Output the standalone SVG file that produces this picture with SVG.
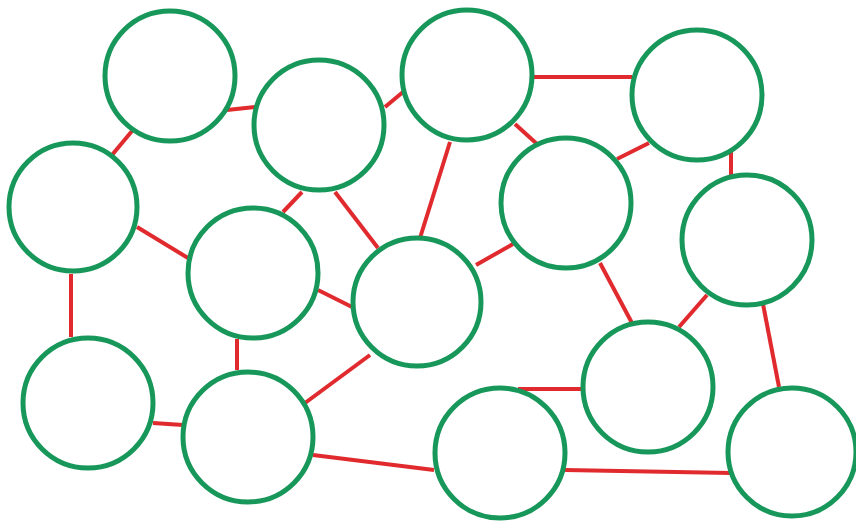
<svg xmlns="http://www.w3.org/2000/svg" width="856" height="525" viewBox="0 0 856 525">
<style>
.n{fill:#ffffff;stroke:#17975a;stroke-width:5}
.e line{stroke:#e02a2e;stroke-width:4;stroke-linecap:butt}
</style>
<rect width="856" height="525" fill="#ffffff"/>
<g class="e" id="connectors">
<line x1="227" y1="110" x2="255" y2="107"/>
<line x1="132" y1="131" x2="112" y2="155"/>
<line x1="385" y1="107" x2="403" y2="92"/>
<line x1="302" y1="192" x2="283" y2="212"/>
<line x1="335" y1="192" x2="378" y2="248"/>
<line x1="450" y1="142" x2="420" y2="238"/>
<line x1="533" y1="77" x2="632" y2="77"/>
<line x1="515" y1="124" x2="537" y2="144"/>
<line x1="617" y1="159" x2="649" y2="143"/>
<line x1="731" y1="152" x2="731" y2="176"/>
<line x1="476" y1="265" x2="513" y2="244"/>
<line x1="137" y1="227" x2="188" y2="258"/>
<line x1="71" y1="274" x2="71" y2="337"/>
<line x1="318" y1="290" x2="352" y2="307"/>
<line x1="237" y1="339" x2="237" y2="370"/>
<line x1="370" y1="355" x2="305" y2="403"/>
<line x1="153" y1="423" x2="183" y2="425"/>
<line x1="313" y1="455" x2="434" y2="470"/>
<line x1="518" y1="389" x2="581" y2="389"/>
<line x1="600" y1="263" x2="632" y2="323"/>
<line x1="707" y1="295" x2="679" y2="327"/>
<line x1="763" y1="304" x2="779" y2="387"/>
<line x1="565" y1="470" x2="731" y2="473"/>
</g>
<g id="n1"><circle class="n" cx="170" cy="76" r="65"/></g>
<g id="n2"><circle class="n" cx="319" cy="125" r="65"/></g>
<g id="n3"><circle class="n" cx="467" cy="75" r="65"/></g>
<g id="n4"><circle class="n" cx="697" cy="95" r="65"/></g>
<g id="n5"><circle class="n" cx="73" cy="207" r="64"/></g>
<g id="n6"><circle class="n" cx="566" cy="203" r="65"/></g>
<g id="n7"><circle class="n" cx="747" cy="240" r="65"/></g>
<g id="n8"><circle class="n" cx="253" cy="273" r="65"/></g>
<g id="n9"><circle class="n" cx="417" cy="302" r="64"/></g>
<g id="n10"><circle class="n" cx="88" cy="403" r="65"/></g>
<g id="n11"><circle class="n" cx="248" cy="437" r="65"/></g>
<g id="n12"><circle class="n" cx="648" cy="387" r="65"/></g>
<g id="n13"><circle class="n" cx="500" cy="453" r="65"/></g>
<g id="n14"><circle class="n" cx="792" cy="452" r="64"/></g>
</svg>
